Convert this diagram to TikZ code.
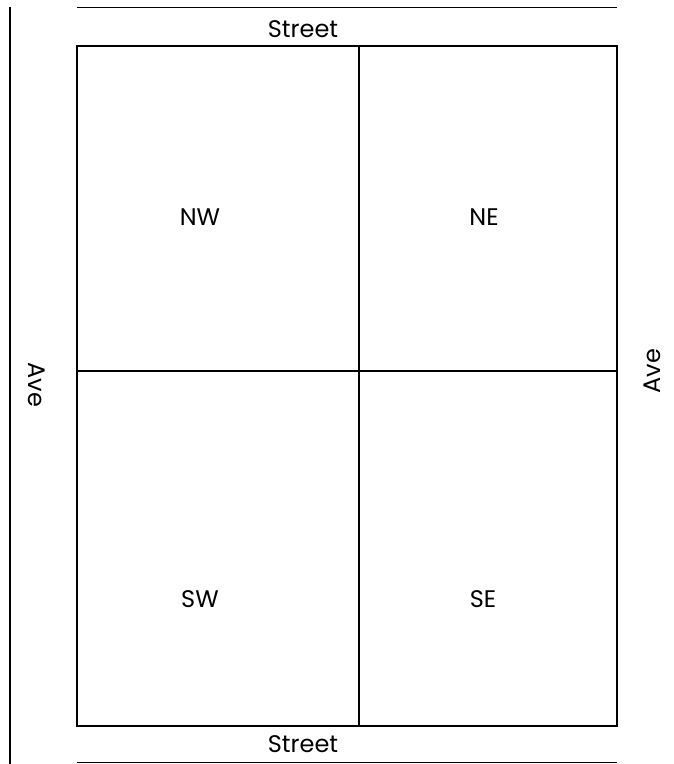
\documentclass[tikz,border=0pt]{standalone}
\usepackage{fontspec}
\setmainfont{Poppins}
\usepackage{tikz}

\begin{document}
\begin{tikzpicture}[x=1pt,y=-1pt,line width=1.4pt,
    lbl/.style={font=\fontsize{24}{28}\selectfont}]
      % Page frame
      \useasboundingbox (0,0) rectangle (673,764);

      % Avenue on the left
      \draw (10,7) -- (10,764);

      % Streets
      \draw (77,7.5) -- (617,7.5);
      \draw (77,762.5) -- (617,762.5);

      % Block
      \draw (77,46) rectangle (617,726);
      \draw (359,46) -- (359,726);
      \draw (77,371) -- (617,371);

      % Street and avenue names
      \node[lbl] (streetN) at (303,29) {Street};
      \node[lbl] (streetS) at (303,744) {Street};
      \node[lbl,rotate=-90] (aveW) at (37,385) {Ave};
      \node[lbl,rotate=90] (aveE) at (652,371) {Ave};

      % Quarters
      \node[lbl] (nw) at (200,217) {NW};
      \node[lbl] (ne) at (484,217) {NE};
      \node[lbl] (sw) at (200,599) {SW};
      \node[lbl] (se) at (483,599) {SE};

\end{tikzpicture}
\end{document}
